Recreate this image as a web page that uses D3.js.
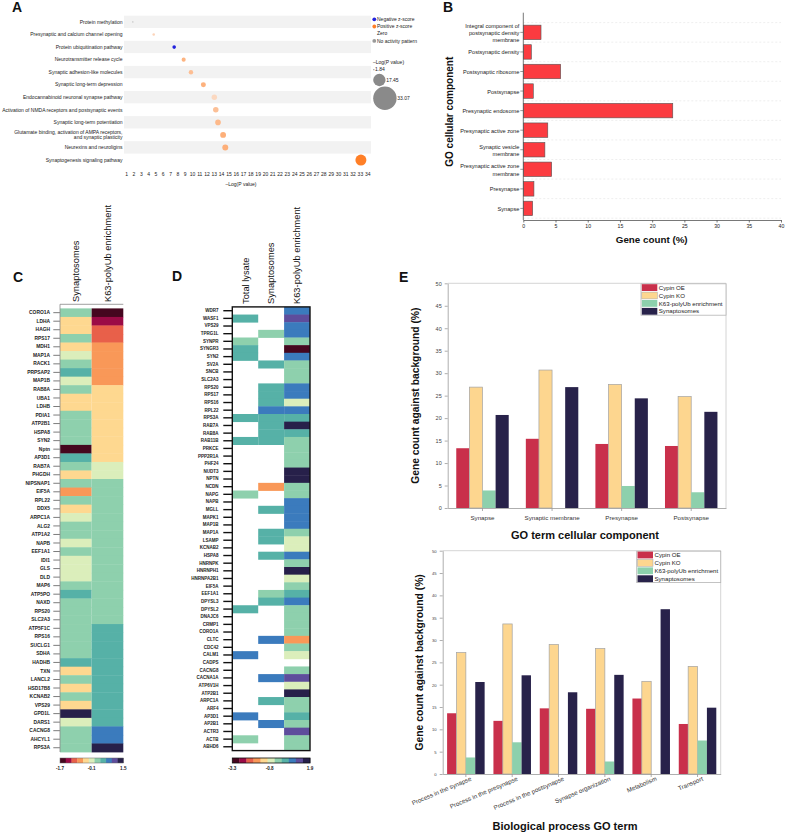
<!DOCTYPE html>
<html>
<head>
<meta charset="utf-8">
<script src="https://cdn.jsdelivr.net/npm/d3@7"></script>
<style>
  body { margin: 0; background: #fff; }
  svg { display: block; font-family: "Liberation Sans", Arial, sans-serif; }
</style>
</head>
<body>
<div id="chart"></div>
<script>
// ---------- Panel A : canonical pathways ----------
var pathways = [
  "Protein methylation",
  "Presynaptic and calcium channel opening",
  "Protein ubiquitination pathway",
  "Neurotransmitter release cycle",
  "Synaptic adhesion-like molecules",
  "Synaptic long-term depression",
  "Endocannabinoid neuronal synapse pathway",
  "Activation of NMDA receptors and postsynaptic events",
  "Synaptic long-term potentiation",
  "Glutamate binding, activation of AMPA receptors,\nand synaptic plasticity",
  "Neurexins and neuroligins",
  "Synaptogenesis signaling pathway"
];
var pathwayLogP = [1.84, 4.7, 7.5, 8.8, 9.8, 11.5, 13.0, 13.2, 13.5, 14.2, 14.5, 33.07];
var pathwayZ = [null, 0.6, -2.0, 1.9, 1.5, 2.0, 0.45, 1.4, 1.7, 2.1, 2.1, 4.0];
var logPTicks = [1,2,3,4,5,6,7,8,9,10,11,12,13,14,15,16,17,18,19,20,21,22,23,24,25,26,27,28,29,30,31,32,33,34];
var sizeLegend = [1.84, 17.45, 33.07];

// ---------- Panel B : GO cellular component ----------
var ccTerms = [
  "Integral component of\npostsynaptic density\nmembrane",
  "Postsynaptic density",
  "Postsynaptic ribosome",
  "Postsynapse",
  "Presynaptic endosome",
  "Presynaptic active zone",
  "Synaptic vesicle\nmembrane",
  "Presynaptic active zone\nmembrane",
  "Presynapse",
  "Synapse"
];
var ccGeneCount = [2.75, 1.25, 5.8, 1.55, 23.2, 3.8, 3.35, 4.4, 1.65, 1.45];
var geneCountTicks = [0, 5, 10, 15, 20, 25, 30, 35, 40];

// ---------- Panel C : heatmap ----------
var cColumns = ["Synaptosomes", "K63-polyUb enrichment"];
var cGenes = ["CORO1A","LDHA","HAGH","RPS17","MDH1","MAP1A","RACK1","PRPSAP2","MAP1B","RAB8A",
  "UBA1","LDHB","PDIA1","ATP2B1","HSPA8","SYN2","Nptn","AP3D1","RAB7A","PHGDH",
  "NIPSNAP1","EIF5A","RPL22","DDX5","ARPC1A","ALG2","ATP1A2","NAPB","EEF1A1","IDI1",
  "GLS","DLD","MAP6","ATP5PO","NAXD","RPS20","SLC2A3","ATP5F1C","RPS16","SUCLG1",
  "SDHA","HADHB","TXN","LANCL2","HSD17B8","KCNAB2","VPS29","GPD1L","DARS1","CACNG8",
  "AHCYL1","RPS3A"];
var cSynaptosomes = [0.2,-0.4,-0.4,0.2,-0.4,-0.1,0.2,0.5,-0.1,0.2,
  -0.4,-0.4,0.2,0.2,0.2,0.2,-1.6,0.5,0.2,-0.4,
  0.2,-0.7,0.2,-0.4,-0.1,0.2,0.2,-0.1,0.2,-0.1,
  -0.1,-0.1,0.2,0.5,0.2,0.2,0.2,0.2,0.2,0.2,
  0.2,0.5,-0.4,0.2,-0.4,0.2,-0.4,1.4,-0.1,0.2,
  0.2,0.2];
var cK63 = [-1.6,-1.3,-1.0,-1.0,-0.7,-0.7,-0.7,-0.7,-0.7,-0.4,
  -0.4,-0.4,-0.4,-0.4,-0.4,-0.4,-0.4,-0.4,-0.1,-0.1,
  0.2,0.2,0.2,0.2,0.2,0.2,0.2,0.2,0.2,0.2,
  0.2,0.2,0.2,0.2,0.2,0.2,0.2,0.5,0.5,0.5,
  0.5,0.5,0.5,0.5,0.5,0.5,0.5,0.5,0.5,0.8,
  0.8,1.4];
var cScaleTicks = [-1.7, -0.1, 1.5];

// ---------- Panel D : heatmap ----------
var dColumns = ["Total lysate", "Synaptosomes", "K63-polyUb enrichment"];
var dGenes = ["WDR7","WASF1","VPS29","TPRG1L","SYNPR","SYNGR3","SYN2","SV2A","SNCB","SLC2A3",
  "RPS20","RPS17","RPS16","RPL22","RPS3A","RAB7A","RAB8A","RAB11B","PRKCE","PPP2R1A",
  "PHF24","NUDT3","NPTN","NCDN","NAPG","NAPB","MGLL","MAPK1","MAP1B","MAP1A",
  "LSAMP","KCNAB2","HSPA8","HNRNPK","HNRNPH1","HNRNPA2B1","EIF5A","EEF1A1","DPYSL3","DPYSL2",
  "DNAJC6","CRMP1","CORO1A","CLTC","CDC42","CALM1","CADPS","CACNG8","CACNA1A","ATP6V1H",
  "ATP2B1","ARPC1A","ARF4","AP3D1","AP2B1","ACTR3","ACTB","ABHD6"];
var dTotal = [null,0.3,null,null,-0.2,0.3,0.3,null,null,null,
  null,null,null,null,0.3,null,null,0.3,null,null,
  null,null,null,null,-0.2,null,null,null,null,null,
  null,null,null,null,null,null,null,null,null,0.3,
  null,null,null,null,null,0.7,null,null,null,null,
  null,null,null,0.7,null,null,-0.2,null];
var dSynaptosomes = [null,null,null,-0.2,null,null,null,0.3,null,null,
  0.3,0.3,0.3,0.7,0.3,0.3,0.3,0.3,null,null,
  null,null,null,-1.6,null,null,0.3,null,null,0.3,
  0.3,null,0.3,null,null,null,null,-0.2,0.3,null,
  null,null,null,0.7,null,null,null,null,0.7,null,
  null,0.3,null,null,0.7,null,null,null];
var dK63 = [0.7,1.2,0.7,0.7,-0.2,-3.1,0.7,-0.2,-0.2,-0.2,
  0.7,0.7,-0.7,0.7,0.3,1.7,0.3,-0.2,-0.2,-0.2,
  -0.2,1.7,1.7,-0.2,-0.2,0.7,0.7,0.7,0.7,-0.2,
  -0.7,-0.7,0.7,-0.2,1.7,-0.7,-0.2,0.3,0.7,-0.2,
  -0.2,-0.2,-0.2,-1.6,-0.2,-0.7,null,-0.2,1.2,-0.7,
  1.7,-0.2,-0.2,0.3,-0.2,1.2,-0.2,-0.2];
var dScaleTicks = [-3.3, -0.8, 1.9];

// ---------- Panel E : grouped bars ----------
var eSeries = ["Cypin OE", "Cypin KO", "K63-polyUb enrichment", "Synaptosomes"];
var eSeriesColors = ["#c9304b", "#fdd68f", "#8dd0ac", "#28224a"];
var ePercentTicks = [0, 5, 10, 15, 20, 25, 30, 35, 40, 45, 50];
var eCcTerms = ["Synapse", "Synaptic membrane", "Presynapse", "Postsynapse"];
var eCcOE = [13.3, 15.4, 14.25, 13.8];
var eCcKO = [26.9, 30.7, 27.5, 24.8];
var eCcK63 = [3.9, 0, 4.9, 3.5];
var eCcSyn = [20.7, 26.9, 24.4, 21.4];
var eBpTerms = ["Process in the synapse", "Process in the presynapse", "Process in the postsynapse",
  "Synapse organization", "Metabolism", "Transport"];
var eBpOE = [13.6, 11.9, 14.7, 14.6, 16.9, 11.2];
var eBpKO = [27.2, 33.6, 29.0, 28.1, 20.75, 24.1];
var eBpK63 = [3.7, 7.1, 0, 2.8, 0, 7.5];
var eBpSyn = [20.6, 22.1, 18.3, 22.2, 36.9, 14.85];

// shared heatmap palette
var heatPalette = ["#45071f","#9b0b46","#e8604a","#f99858","#fed890","#dbeebb",
  "#8ed0ad","#56b1a7","#3b7bbd","#5e4d9c","#27204a"];

var svg = d3.select("#chart").append("svg").attr("width", 785).attr("height", 833);

// panel letters
[["A", 12, 12], ["B", 443, 12], ["C", 13, 282], ["D", 172, 281], ["E", 399, 282]].forEach(function (p) {
  svg.append("text").attr("x", p[1]).attr("y", p[2]).text(p[0])
    .style("font-size", "14px").style("font-weight", "bold").attr("fill", "#111");
});

function multiline(sel, lineH) {
  sel.each(function (d) {
    var t = d3.select(this);
    var lines = (t.text() || "").split("\n");
    t.text(null);
    lines.forEach(function (l, i) {
      t.append("tspan").attr("x", t.attr("x") || 0)
        .attr("dy", i === 0 ? (-(lines.length - 1) * lineH / 2 + lineH * 0.35) + "px" : lineH + "px")
        .text(l);
    });
  });
}

// ================= Panel A =================
var gA = svg.append("g");
var aX = d3.scaleLinear().domain([1, 34]).range([126.7, 367.7]);
var aY = d3.scaleBand().domain(pathways).range([15.7, 166.3]);
var aR = d3.scalePow().exponent(0.75).domain([0, 33.07]).range([0, 5.5]);
var zPos = d3.scaleLinear().domain([0, 4]).range(["#fbe3d3", "#ff7f27"]);
function zColor(z) {
  if (z === null) return "#b5b5b5";
  return z < 0 ? "#2222dd" : zPos(z);
}

gA.selectAll(".band").data(pathways).enter().append("rect")
  .attr("x", 124).attr("width", 247)
  .attr("y", function (d) { return aY(d); })
  .attr("height", aY.bandwidth())
  .attr("fill", function (d, i) { return i % 2 === 0 ? "#f2f2f2" : "#ffffff"; });

gA.selectAll(".plabel").data(pathways).enter().append("text")
  .attr("x", 122.5)
  .attr("y", function (d) { return aY(d) + aY.bandwidth() / 2; })
  .attr("text-anchor", "end").style("font-size", "5px").attr("fill", "#222")
  .text(function (d) { return d; })
  .call(multiline, 5);

gA.selectAll(".dot").data(pathways).enter().append("circle")
  .attr("cx", function (d, i) { return aX(pathwayLogP[i]); })
  .attr("cy", function (d) { return aY(d) + aY.bandwidth() / 2; })
  .attr("r", function (d, i) { return aR(pathwayLogP[i]); })
  .attr("fill", function (d, i) { return zColor(pathwayZ[i]); });

gA.selectAll(".xt").data(logPTicks).enter().append("text")
  .attr("x", function (d) { return aX(d); }).attr("y", 176)
  .attr("text-anchor", "middle").style("font-size", "5px").attr("fill", "#222")
  .text(function (d) { return d; });
gA.append("text").attr("x", 241).attr("y", 186).attr("text-anchor", "middle")
  .style("font-size", "5px").attr("fill", "#222").text("\u2013Log(P value)");

// legend A
var aLeg = [["Negative z-score", "#2222dd"], ["Positive z-score", "#ff7f27"], ["Zero", null], ["No activity pattern", "#9a9a9a"]];
aLeg.forEach(function (l, i) {
  var yy = 19.3 + i * 7.2;
  if (l[1]) gA.append("circle").attr("cx", 374.3).attr("cy", yy).attr("r", 1.9).attr("fill", l[1]);
  gA.append("text").attr("x", 377).attr("y", yy).attr("dy", "0.35em")
    .style("font-size", "5px").attr("fill", "#222").text(l[0]);
});
gA.append("text").attr("x", 373).attr("y", 62.7).attr("dy", "0.35em")
  .style("font-size", "5px").attr("fill", "#222").text("\u2013Log(P value)");
var legR = d3.scaleLinear().domain([0, 33.07]).range([0, 11.7]);
var legY = [69.7, 80, 98.3];
sizeLegend.forEach(function (v, i) {
  var r = legR(v);
  gA.append("circle").attr("cx", 373.2 + r).attr("cy", legY[i]).attr("r", r).attr("fill", "#8a8a8a");
  gA.append("text").attr("x", 373.8 + 2 * r).attr("y", legY[i]).attr("dy", "0.35em")
    .style("font-size", "5px").attr("fill", "#222").text(v.toFixed(2));
});

// ================= Panel B =================
var gB = svg.append("g");
var bX = d3.scaleLinear().domain([0, 40]).range([523.3, 781]);
var bY = d3.scaleBand().domain(ccTerms).range([22.6, 218.2]).paddingInner(0.26).paddingOuter(0.13);
var bStep = bY.step();

gB.selectAll(".grid").data(d3.range(ccTerms.length + 1)).enter().append("line")
  .attr("x1", 523.3).attr("x2", 781)
  .attr("y1", function (i) { return 22.6 + i * bStep; })
  .attr("y2", function (i) { return 22.6 + i * bStep; })
  .attr("stroke", "#e2e2e2").attr("stroke-width", 0.6).attr("stroke-dasharray", "2,2");

gB.selectAll(".bar").data(ccTerms).enter().append("rect")
  .attr("x", bX(0))
  .attr("y", function (d) { return bY(d); })
  .attr("width", function (d, i) { return bX(ccGeneCount[i]) - bX(0); })
  .attr("height", bY.bandwidth())
  .attr("fill", "#fb3b40").attr("stroke", "#555").attr("stroke-width", 0.6);

gB.append("line").attr("x1", 523.3).attr("x2", 523.3).attr("y1", 12.7).attr("y2", 220)
  .attr("stroke", "#555").attr("stroke-width", 0.8);
gB.selectAll(".ytick").data(ccTerms).enter().append("line")
  .attr("x1", 520.3).attr("x2", 523.3)
  .attr("y1", function (d) { return bY(d) + bY.bandwidth() / 2; })
  .attr("y2", function (d) { return bY(d) + bY.bandwidth() / 2; })
  .attr("stroke", "#555").attr("stroke-width", 0.6);
gB.selectAll(".ylab").data(ccTerms).enter().append("text")
  .attr("x", 519.3)
  .attr("y", function (d) { return bY(d) + bY.bandwidth() / 2; })
  .attr("text-anchor", "end").style("font-size", "5.6px").attr("fill", "#222")
  .text(function (d) { return d; })
  .call(multiline, 7.3);

var bAxis = gB.append("g").attr("transform", "translate(0,220)")
  .call(d3.axisBottom(bX).tickValues(geneCountTicks).tickSize(2.5).tickSizeOuter(0).tickPadding(2));
bAxis.selectAll("path,line").attr("stroke", "#555").attr("stroke-width", 0.8);
bAxis.selectAll("text").style("font-size", "5.2px").attr("fill", "#222").attr("font-family", null);

gB.append("text").attr("x", 651.7).attr("y", 242.5).attr("text-anchor", "middle")
  .style("font-size", "9.8px").style("font-weight", "bold").attr("fill", "#111").text("Gene count (%)");
gB.append("text").attr("transform", "translate(452.5,111.7) rotate(-90)").attr("text-anchor", "middle")
  .style("font-size", "10px").style("font-weight", "bold").attr("fill", "#111").text("GO cellular component");

// ================= Panel C =================
var gC = svg.append("g");
var cColor = d3.scaleQuantize().domain([-1.7, 1.5]).range(heatPalette);
var cXs = d3.scaleBand().domain(cColumns).range([60, 123.3]);
var cYs = d3.scaleBand().domain(cGenes).range([308.4, 752]);
var cCells = [];
cGenes.forEach(function (g, i) {
  cCells.push({ col: cColumns[0], gene: g, v: cSynaptosomes[i] });
  cCells.push({ col: cColumns[1], gene: g, v: cK63[i] });
});
gC.selectAll(".cell").data(cCells).enter().append("rect")
  .attr("x", function (d) { return cXs(d.col); })
  .attr("y", function (d) { return cYs(d.gene); })
  .attr("width", cXs.bandwidth())
  .attr("height", cYs.bandwidth() + 0.4)
  .attr("fill", function (d) { return cColor(d.v); });

var cAxis = gC.append("g").attr("transform", "translate(60,0)")
  .call(d3.axisLeft(cYs).tickSize(6.7).tickSizeOuter(0).tickPadding(3.3));
cAxis.select(".domain").remove();
cAxis.selectAll("line").attr("stroke", "#444").attr("stroke-width", 0.7);
cAxis.selectAll("text").style("font-size", "4.9px").style("font-weight", "bold")
  .attr("fill", "#222").attr("font-family", null);
gC.append("line").attr("x1", 60).attr("x2", 60).attr("y1", 304.3).attr("y2", 752)
  .attr("stroke", "#888").attr("stroke-width", 0.8);
gC.append("line").attr("x1", 60).attr("x2", 123.3).attr("y1", 304.3).attr("y2", 304.3)
  .attr("stroke", "#888").attr("stroke-width", 0.8);
gC.selectAll(".chead").data(cColumns).enter().append("text")
  .attr("transform", function (d) { return "translate(" + (cXs(d) + cXs.bandwidth() / 2) + ",302) rotate(-90)"; })
  .attr("dy", "0.35em").style("font-size", "9.3px").attr("fill", "#111")
  .text(function (d) { return d; });

// colour bar C
var cBar = d3.scaleLinear().domain([-1.7, 1.5]).range([60, 123.3]);
gC.selectAll(".cb").data(heatPalette).enter().append("rect")
  .attr("x", function (c) { return cBar(cColor.invertExtent(c)[0]); })
  .attr("width", function (c) { var e = cColor.invertExtent(c); return cBar(e[1]) - cBar(e[0]) + 0.3; })
  .attr("y", 758).attr("height", 5).attr("fill", function (c) { return c; });
gC.append("rect").attr("x", 60).attr("y", 758).attr("width", 63.3).attr("height", 5)
  .attr("fill", "none").attr("stroke", "#666").attr("stroke-width", 0.5);
gC.selectAll(".cbt").data(cScaleTicks).enter().append("text")
  .attr("x", function (d) { return cBar(d); }).attr("y", 770).attr("text-anchor", "middle")
  .style("font-size", "4.6px").style("font-weight", "bold").attr("fill", "#222")
  .text(function (d) { return d; });

// ================= Panel D =================
var gD = svg.append("g");
var dColor = d3.scaleQuantize().domain([-3.3, 1.9]).range(heatPalette);
var dXs = d3.scaleBand().domain(dColumns).range([232.3, 310]);
var dYs = d3.scaleBand().domain(dGenes).range([306.9, 750.6]);
var dCells = [];
dGenes.forEach(function (g, i) {
  [dTotal, dSynaptosomes, dK63].forEach(function (arr, j) {
    if (arr[i] !== null) dCells.push({ col: dColumns[j], gene: g, v: arr[i] });
  });
});
gD.selectAll(".cell").data(dCells).enter().append("rect")
  .attr("x", function (d) { return dXs(d.col); })
  .attr("y", function (d) { return dYs(d.gene); })
  .attr("width", dXs.bandwidth())
  .attr("height", dYs.bandwidth() + 0.4)
  .attr("fill", function (d) { return dColor(d.v); });
gD.append("rect").attr("x", 232.3).attr("y", 306.9).attr("width", 77.7).attr("height", 443.7)
  .attr("fill", "none").attr("stroke", "#111").attr("stroke-width", 1.4);

var dAxis = gD.append("g").attr("transform", "translate(232.3,0)")
  .call(d3.axisLeft(dYs).tickSize(9).tickSizeOuter(0).tickPadding(4.8));
dAxis.select(".domain").remove();
dAxis.selectAll("line").attr("stroke", "#111").attr("stroke-width", 1.4);
dAxis.selectAll("text").style("font-size", "4.5px").style("font-weight", "bold")
  .attr("fill", "#222").attr("font-family", null);
gD.selectAll(".dhead").data(dColumns).enter().append("text")
  .attr("transform", function (d) { return "translate(" + (dXs(d) + dXs.bandwidth() / 2) + ",304) rotate(-90)"; })
  .attr("dy", "0.35em").style("font-size", "9.3px").attr("fill", "#111")
  .text(function (d) { return d; });

// colour bar D
var dBar = d3.scaleLinear().domain([-3.3, 1.9]).range([232.3, 310]);
gD.selectAll(".cb").data(heatPalette).enter().append("rect")
  .attr("x", function (c) { return dBar(dColor.invertExtent(c)[0]); })
  .attr("width", function (c) { var e = dColor.invertExtent(c); return dBar(e[1]) - dBar(e[0]) + 0.3; })
  .attr("y", 758).attr("height", 5).attr("fill", function (c) { return c; });
gD.append("rect").attr("x", 232.3).attr("y", 758).attr("width", 77.7).attr("height", 5)
  .attr("fill", "none").attr("stroke", "#111").attr("stroke-width", 0.8);
gD.selectAll(".cbt").data(dScaleTicks).enter().append("text")
  .attr("x", function (d) { return dBar(d); }).attr("y", 770).attr("text-anchor", "middle")
  .style("font-size", "4.6px").style("font-weight", "bold").attr("fill", "#222")
  .text(function (d) { return d; });

// ================= Panel E =================
var eColor = d3.scaleOrdinal().domain(eSeries).range(eSeriesColors);

function groupedBars(terms, values, box) {
  var g = svg.append("g");
  var x = d3.scaleBand().domain(terms).range([box.left, box.right])
    .paddingInner(box.pad).paddingOuter(box.pad / 2);
  var xs = d3.scaleBand().domain(eSeries).range([0, x.bandwidth()]);
  var y = d3.scaleLinear().domain([0, 50]).range([box.bottom, box.top]);

  // light frame top / right
  g.append("path").attr("d", "M" + box.left + "," + box.top + "H" + box.right + "V" + box.bottom)
    .attr("fill", "none").attr("stroke", "#c9c9c9").attr("stroke-width", 0.8);

  var rows = [];
  terms.forEach(function (t, i) {
    eSeries.forEach(function (s, j) { rows.push({ term: t, series: s, value: values[j][i] }); });
  });
  g.selectAll(".bar").data(rows.filter(function (d) { return d.value > 0; })).enter().append("rect")
    .attr("x", function (d) { return x(d.term) + xs(d.series); })
    .attr("width", xs.bandwidth())
    .attr("y", function (d) { return y(d.value); })
    .attr("height", function (d) { return y(0) - y(d.value); })
    .attr("fill", function (d) { return eColor(d.series); })
    .attr("stroke", function (d) { return d.series === "Cypin KO" ? "#a3a3a3" : "none"; })
    .attr("stroke-width", 0.7);

  var yAxis = g.append("g").attr("transform", "translate(" + box.left + ",0)")
    .call(d3.axisLeft(y).tickValues(ePercentTicks).tickSize(3).tickSizeOuter(0).tickPadding(3));
  yAxis.selectAll("path,line").attr("stroke", "#999").attr("stroke-width", 0.8);
  yAxis.selectAll("text").style("font-size", box.tickFont + "px").attr("fill", "#444").attr("font-family", null);

  var xAxis = g.append("g").attr("transform", "translate(0," + box.bottom + ")")
    .call(d3.axisBottom(x).tickSize(3).tickSizeOuter(0).tickPadding(5));
  xAxis.selectAll("path,line").attr("stroke", "#999").attr("stroke-width", 0.8);
  xAxis.selectAll("text").style("font-size", "6.2px").attr("fill", "#333").attr("font-family", null);

  // legend
  var lg = g.append("g");
  lg.append("rect").attr("x", box.legX).attr("y", box.top + 0.5).attr("width", box.right - box.legX)
    .attr("height", 31.4).attr("fill", "#fff").attr("stroke", "#b5b5b5").attr("stroke-width", 0.8);
  eSeries.forEach(function (s, i) {
    var cy = box.top + 4.3 + i * 7.9;
    lg.append("rect").attr("x", box.legX + 0.8).attr("y", cy - 3.4).attr("width", 15.5).attr("height", 6.8)
      .attr("fill", eColor(s)).attr("stroke", s === "Cypin KO" ? "#a3a3a3" : "none").attr("stroke-width", 0.5);
    lg.append("text").attr("x", box.legX + 17.8).attr("y", cy).attr("dy", "0.35em")
      .style("font-size", "6.1px").attr("fill", "#222").text(s);
  });

  g.append("text").attr("transform", "translate(" + box.yTitleX + "," + ((box.top + box.bottom) / 2) + ") rotate(-90)")
    .attr("text-anchor", "middle").style("font-size", "10.3px").style("font-weight", "bold")
    .attr("fill", "#111").text("Gene count against background (%)");
  return { g: g, x: x, xAxis: xAxis };
}

var eTop = groupedBars(eCcTerms, [eCcOE, eCcKO, eCcK63, eCcSyn],
  { left: 447.7, right: 726, top: 283.3, bottom: 508, pad: 0.246, tickFont: 5.5, legX: 641, yTitleX: 419 });
svg.append("text").attr("x", 585).attr("y", 539).attr("text-anchor", "middle")
  .style("font-size", "11px").style("font-weight", "bold").attr("fill", "#111").text("GO term cellular component");

var eBot = groupedBars(eBpTerms, [eBpOE, eBpKO, eBpK63, eBpSyn],
  { left: 442.7, right: 720.7, top: 550.7, bottom: 774, pad: 0.19, tickFont: 4.2, legX: 636.7, yTitleX: 423 });
eBot.xAxis.selectAll("text")
  .attr("text-anchor", "end")
  .attr("transform", "translate(2,-3) rotate(-23)")
  .attr("dy", "0.35em");
svg.append("text").attr("x", 565).attr("y", 830).attr("text-anchor", "middle")
  .style("font-size", "11px").style("font-weight", "bold").attr("fill", "#111").text("Biological process GO term");
</script>
</body>
</html>
